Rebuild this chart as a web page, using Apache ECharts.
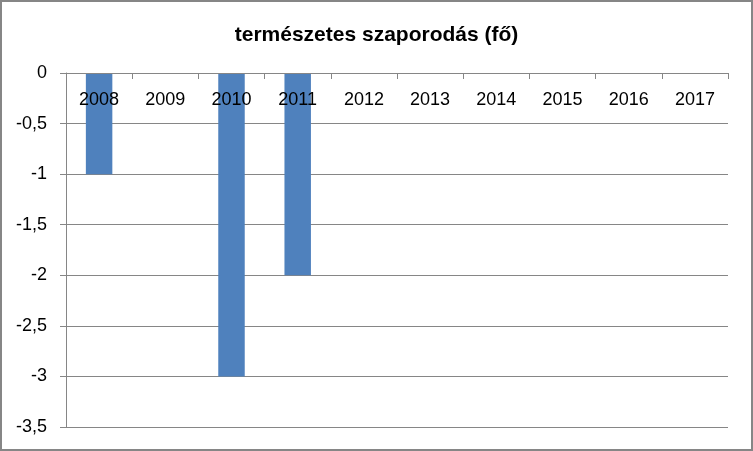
<!DOCTYPE html>
<html>
<head>
<meta charset="utf-8">
<script src="https://cdn.jsdelivr.net/npm/echarts@6/dist/echarts.min.js"></script>
<style>
  html, body { margin: 0; padding: 0; background: #fff; }
  #main { width: 753px; height: 451px; }
</style>
</head>
<body>
<div id="main"></div>
<script>
var chartTitle = 'természetes szaporodás (fő)';
var years = ['2008', '2009', '2010', '2011', '2012', '2013', '2014', '2015', '2016', '2017'];
var values = [-1, 0, -3, -2, 0, 0, 0, 0, 0, 0];

var chart = echarts.init(document.getElementById('main'));
var font = '"Liberation Sans", Arial, sans-serif';

var option = {
  backgroundColor: '#fff',
  animation: false,
  title: {
    text: chartTitle,
    left: 'center',
    top: 20,
    textStyle: { fontFamily: font, fontSize: 21, fontWeight: 'bold', color: '#000' }
  },
  grid: { left: 66, right: 25, top: 73, bottom: 24, containLabel: false, outerBoundsMode: 'none' },
  xAxis: {
    type: 'category',
    position: 'top',
    data: years,
    z: 10,
    axisLine: { onZero: false, lineStyle: { color: '#868686', width: 1 } },
    axisTick: { show: true, inside: true, length: 6, lineStyle: { color: '#868686' } },
    axisLabel: { inside: true, margin: 18, color: '#000', fontFamily: font, fontSize: 18 }
  },
  yAxis: {
    type: 'value',
    min: -3.5,
    max: 0,
    interval: 0.5,
    axisLine: { show: true, lineStyle: { color: '#868686' } },
    axisTick: { show: true, length: 6, lineStyle: { color: '#868686' } },
    axisLabel: {
      margin: 19, color: '#000', fontFamily: font, fontSize: 18,
      formatter: function (v) { return String(v).replace('.', ','); }
    },
    splitLine: { show: true, lineStyle: { color: '#868686', width: 1 } }
  },
  series: [{
    type: 'bar',
    data: values,
    barWidth: '40%',
    z: 2,
    itemStyle: { color: '#4F81BD' }
  }],
  graphic: [{
    type: 'rect',
    shape: { x: 1, y: 1, width: 751, height: 449 },
    style: { fill: 'none', stroke: '#868686', lineWidth: 2 },
    z: 100
  }]
};

chart.setOption(option);
</script>
</body>
</html>
